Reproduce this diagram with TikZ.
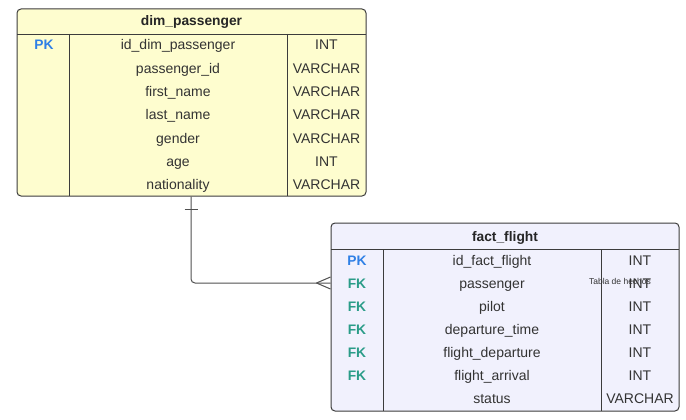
\documentclass[tikz,border=0pt]{standalone}
\usepackage{fontspec}
\setmainfont{Liberation Sans}
\definecolor{dimfill}{HTML}{FEFDCF}
\definecolor{factfill}{HTML}{F1F1FD}
\definecolor{edgec}{HTML}{3C3C3C}
\definecolor{txt}{HTML}{333333}
\definecolor{pkc}{HTML}{2F80E6}
\definecolor{fkc}{HTML}{2A9C88}
\begin{document}
\begin{tikzpicture}[x=1pt,y=-1pt,
  tablebox/.style={draw=edgec, line width=1pt, rounded corners=4pt, inner sep=0pt},
  hdr/.style={font=\fontsize{13.8}{15}\selectfont\bfseries, text=black!85, inner sep=0pt, anchor=base, yshift=-5pt},
  fld/.style={font=\fontsize{14}{15}\selectfont, text=txt, inner sep=0pt, anchor=base, yshift=-5pt},
  keypk/.style={font=\fontsize{13.8}{15}\selectfont\bfseries, text=pkc, inner sep=0pt, anchor=base, yshift=-5pt},
  keyfk/.style={font=\fontsize{13.8}{15}\selectfont\bfseries, text=fkc, inner sep=0pt, anchor=base, yshift=-5pt},
  grid/.style={draw=edgec, line width=0.9pt},
  conn/.style={draw=edgec!90, line width=1pt}]
\useasboundingbox (0,0) rectangle (686,420);

% ---------- dim_passenger ----------
\node[tablebox, fill=dimfill, minimum width=349pt, minimum height=187pt] (dim) at (191.5,102.5) {};
\node[hdr] (dimh) at (191.5,21) {dim\_passenger};
\draw[grid] (17,34) -- (366,34);
\draw[grid] (69,34) -- (69,196);
\draw[grid] (287,34) -- (287,196);
\node[keypk] (dimpk) at (44,45) {PK};
\foreach \n/\t/\y [count=\i] in {id\_dim\_passenger/INT/45, passenger\_id/VARCHAR/69, first\_name/VARCHAR/92, last\_name/VARCHAR/115, gender/VARCHAR/138, age/INT/161, nationality/VARCHAR/184}{
  \node[fld] (dimf\i) at (178,\y) {\n};
  \node[fld] (dimt\i) at (326.5,\y) {\t};
}

% ---------- fact_flight ----------
\node[tablebox, fill=factfill, minimum width=348pt, minimum height=188pt] (fact) at (505,317) {};
\node[hdr] (facth) at (505,236) {fact\_flight};
\draw[grid] (331,249) -- (679,249);
\draw[grid] (383,249) -- (383,411);
\draw[grid] (601,249) -- (601,411);
\node[keypk] (factpk) at (357,260) {PK};
\foreach \k/\y [count=\i] in {283,306,329,352,375}{
  \node[keyfk] (factfk\i) at (357,\k) {FK};
}
\foreach \n/\t/\y [count=\i] in {id\_fact\_flight/INT/260, passenger/INT/283, pilot/INT/306, departure\_time/INT/329, flight\_departure/INT/352, flight\_arrival/INT/375, status/VARCHAR/398}{
  \node[fld] (factf\i) at (492,\y) {\n};
  \node[fld] (factt\i) at (640,\y) {\t};
}
\node[font=\fontsize{8.5}{10}\selectfont, text=black!80, inner sep=0pt] (note) at (620,281) {Tabla de hechos};

% ---------- relationship ----------
\coordinate (relx) at (191,0);
\coordinate (rely) at (0,283);
\draw[conn, rounded corners=4pt] (dim.south -| relx) |- (fact.west |- rely);
\draw[conn] ([xshift=-6.5pt,yshift=-13pt]dim.south -| relx) -- ++(13,0);
\draw[conn] ([xshift=-14pt]fact.west |- rely) -- ([yshift=-6pt]fact.west |- rely);
\draw[conn] ([xshift=-14pt]fact.west |- rely) -- ([yshift=6pt]fact.west |- rely);
\end{tikzpicture}
\end{document}
